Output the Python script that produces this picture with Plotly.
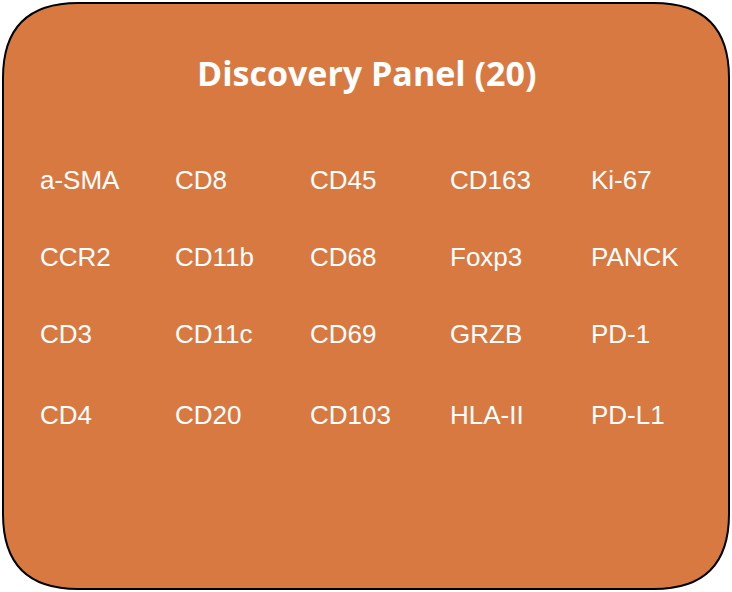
import plotly.graph_objects as go

# Panel contents, listed column by column
title = "Discovery Panel (20)"
columns = [
    ["a-SMA", "CCR2", "CD3", "CD4"],
    ["CD8", "CD11b", "CD11c", "CD20"],
    ["CD45", "CD68", "CD69", "CD103"],
    ["CD163", "Foxp3", "GRZB", "HLA-II"],
    ["Ki-67", "PANCK", "PD-1", "PD-L1"],
]

W, H = 732, 592
col_x = [40, 175, 310, 450, 591]
row_y = [182, 259, 336, 417]

xs, ys, labels = [], [], []
for cx, col in zip(col_x, columns):
    for ry, name in zip(row_y, col):
        xs.append(cx)
        ys.append(ry)
        labels.append(name)

fig = go.Figure(go.Scatter(
    x=xs, y=ys, text=labels, mode="text",
    textposition="middle right",
    textfont=dict(family="Liberation Sans, Arial", size=26, color="white"),
    hoverinfo="skip",
))

# rounded rectangle outline
x0, y0, x1, y1, r = 3, 3, 729, 589, 75
path = (f"M {x0+r},{y0} L {x1-r},{y0} Q {x1},{y0} {x1},{y0+r} "
        f"L {x1},{y1-r} Q {x1},{y1} {x1-r},{y1} L {x0+r},{y1} "
        f"Q {x0},{y1} {x0},{y1-r} L {x0},{y0+r} Q {x0},{y0} {x0+r},{y0} Z")
fig.add_shape(type="path", path=path, fillcolor="#D97942",
              line=dict(color="black", width=2), layer="below")

fig.add_annotation(x=366, y=73, text=f"<b>{title}</b>", showarrow=False,
                   font=dict(family="Open Sans", size=34, color="white"))

fig.update_layout(
    width=W, height=H, margin=dict(l=0, r=0, t=0, b=0),
    paper_bgcolor="white", plot_bgcolor="white", showlegend=False,
    xaxis=dict(range=[0, W], visible=False, fixedrange=True),
    yaxis=dict(range=[H, 0], visible=False, fixedrange=True),
)

fig.write_html("out.html", config={"displayModeBar": False},
               post_script="document.body.style.margin='0';document.body.style.overflow='hidden';")
